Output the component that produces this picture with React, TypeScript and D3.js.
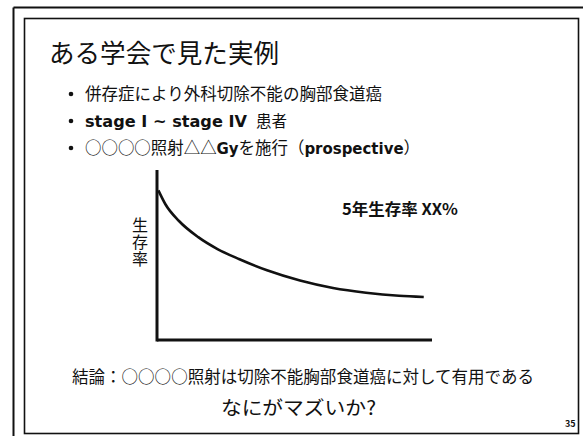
import React from "react";
import * as d3 from "d3";

const W = 583;
const H = 436;

const timePoints = [0.5, 3, 8, 15, 22, 30, 40, 52, 64, 76, 88, 97];
const survival = [88, 80, 70, 60.5, 53.5, 47.5, 41, 35, 30.6, 27.8, 26, 25.3];

const title = "ある学会で見た実例";
const bullet1 = "併存症により外科切除不能の胸部食道癌";
const bullet2Bold = "stage I ~ stage IV";
const bullet2Rest = "患者";
const bullet3a = "○○○○照射△△";
const bullet3b = "Gy";
const bullet3c = "を施行（";
const bullet3d = "prospective";
const bullet3e = "）";
const yLabel = "生存率";
const annotation = "5年生存率 XX%";
const conclusion = "結論：○○○○照射は切除不能胸部食道癌に対して有用である";
const question = "なにがマズいか?";
const pageNum = "35";

const FONT = "'Noto Sans CJK JP', 'Noto Sans', sans-serif";
const BOLD_LATIN = "'DejaVu Sans', sans-serif";

export default function App() {
  const x = d3.scaleLinear().domain([0, 100]).range([157, 432]);
  const y = d3.scaleLinear().domain([0, 100]).range([340, 170]);
  const data = timePoints.map((t, i) => ({ t, s: survival[i] }));
  const line = d3
    .line<{ t: number; s: number }>()
    .x((d) => x(d.t))
    .y((d) => y(d.s))
    .curve(d3.curveMonotoneX);

  const bullets = [94, 121, 148];
  const fs = 16.5;

  return (
    <svg
      width={W}
      height={H}
      viewBox={`0 0 ${W} ${H}`}
      style={{ position: "absolute", left: 0, top: 0, background: "#fff" }}
      fontFamily={FONT}
    >
      <rect x={0} y={0} width={W} height={H} fill="#fff" />
      {/* outer frame */}
      <line x1={13.5} y1={7.5} x2={W} y2={7.5} stroke="#111" strokeWidth={2} />
      <line x1={13.5} y1={7.5} x2={13.5} y2={H} stroke="#111" strokeWidth={2} />
      {/* inner frame */}
      <rect x={24.5} y={18.5} width={554} height={415} fill="none" stroke="#111" strokeWidth={1.6} />

      <text x={49} y={63} fontSize={26} fill="#111" textLength={230} lengthAdjust="spacingAndGlyphs">
        {title}
      </text>

      {bullets.map((by, i) => (
        <circle key={i} cx={71} cy={by} r={2.3} fill="#111" />
      ))}
      <text x={85} y={bullets[0] + 6} fontSize={fs} fill="#111" textLength={297} lengthAdjust="spacingAndGlyphs">
        {bullet1}
      </text>
      <text
        x={85}
        y={bullets[1] + 5.5}
        fontSize={15}
        fontWeight="bold"
        fontFamily={BOLD_LATIN}
        fill="#111"
        textLength={162}
        lengthAdjust="spacingAndGlyphs"
      >
        {bullet2Bold}
      </text>
      <text x={256} y={bullets[1] + 6} fontSize={15.5} fill="#111">
        {bullet2Rest}
      </text>
      <text x={85} y={bullets[2] + 6} fontSize={fs} fill="#111" textLength={335} lengthAdjust="spacingAndGlyphs">
        <tspan>{bullet3a}</tspan>
        <tspan fontWeight="bold" fontFamily={BOLD_LATIN} fontSize={15}>{bullet3b}</tspan>
        <tspan>{bullet3c}</tspan>
        <tspan fontWeight="bold" fontFamily={BOLD_LATIN} fontSize={15}>{bullet3d}</tspan>
        <tspan>{bullet3e}</tspan>
      </text>

      {/* axes */}
      <line x1={x(0)} y1={y(100)} x2={x(0)} y2={y(0) + 1.5} stroke="#111" strokeWidth={3} />
      <line x1={x(0)} y1={y(0)} x2={x(100)} y2={y(0)} stroke="#111" strokeWidth={3} />
      <path d={line(data) || ""} fill="none" stroke="#111" strokeWidth={2.6} />

      <text
        x={140}
        y={217}
        fontSize={16}
        fill="#111"
        style={{ writingMode: "vertical-rl" }}
        letterSpacing={1}
      >
        {yLabel}
      </text>

      <text x={342} y={215} fontSize={16} fontWeight="bold" fill="#111" textLength={116} lengthAdjust="spacingAndGlyphs">
        {annotation}
      </text>

      <text x={72} y={383} fontSize={fs} fill="#111" textLength={462} lengthAdjust="spacingAndGlyphs">
        {conclusion}
      </text>
      <text x={221} y={415} fontSize={19.5} fill="#111" textLength={155} lengthAdjust="spacingAndGlyphs">
        {question}
      </text>
      <text x={565} y={427} fontSize={9} fontWeight="bold" fill="#111">
        {pageNum}
      </text>
    </svg>
  );
}
